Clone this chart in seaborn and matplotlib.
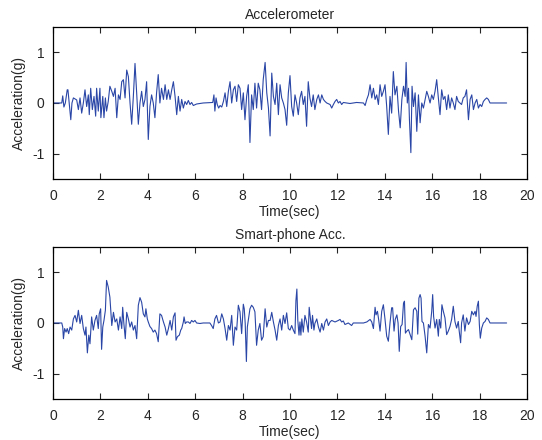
import matplotlib
matplotlib.use("Agg")
import matplotlib.pyplot as plt
import seaborn as sns

# Accelerometer record: sample times (s) and acceleration (g)
acc_t = [0.0, 0.37, 0.41, 0.46, 0.52, 0.60, 0.63, 0.75, 0.80, 0.86, 0.93, 1.00, 1.07, 1.14, 1.21, 1.28,
         1.35, 1.42, 1.49, 1.53, 1.59, 1.66, 1.73, 1.80, 1.84, 1.91, 1.98, 2.02, 2.10, 2.15, 2.21, 2.26,
         2.33, 2.40, 2.48, 2.55, 2.62, 2.69, 2.76, 2.83, 2.90, 2.97, 3.04, 3.11, 3.18, 3.25, 3.32, 3.39,
         3.46, 3.53, 3.60, 3.67, 3.74, 3.81, 3.88, 3.95, 4.02, 4.09, 4.16, 4.23, 4.30, 4.37, 4.44, 4.51,
         4.58, 4.66, 4.73, 4.80, 4.87, 4.94, 5.01, 5.08, 5.15, 5.22, 5.29, 5.36, 5.43, 5.50, 5.57, 5.64,
         5.71, 5.78, 5.85, 5.92, 6.06, 6.20, 6.34, 6.74, 6.79, 6.83, 6.88, 6.93, 6.99, 7.05, 7.12, 7.19,
         7.26, 7.33, 7.40, 7.47, 7.54, 7.61, 7.68, 7.75, 7.82, 7.89, 7.96, 8.03, 8.10, 8.17, 8.24, 8.31,
         8.38, 8.45, 8.52, 8.59, 8.66, 8.73, 8.80, 8.87, 8.95, 9.02, 9.09, 9.16, 9.23, 9.30, 9.37, 9.44,
         9.51, 9.58, 9.65, 9.72, 9.79, 9.86, 9.93, 10.00, 10.07, 10.14, 10.21, 10.28, 10.35, 10.42, 10.49,
         10.56, 10.63, 10.70, 10.77, 10.84, 10.91, 10.98, 11.05, 11.13, 11.20, 11.27, 11.34, 11.41, 11.48,
         11.55, 11.69, 11.76, 11.83, 11.90, 11.97, 12.04, 12.11, 12.18, 12.25, 12.53, 12.81, 13.10, 13.17,
         13.24, 13.31, 13.38, 13.45, 13.52, 13.59, 13.66, 13.73, 13.80, 13.87, 13.94, 14.01, 14.08, 14.15,
         14.22, 14.29, 14.36, 14.43, 14.51, 14.58, 14.65, 14.72, 14.79, 14.86, 14.90, 14.95, 15.00, 15.04,
         15.10, 15.15, 15.21, 15.28, 15.35, 15.42, 15.49, 15.56, 15.63, 15.70, 15.77, 15.84, 15.91, 15.98,
         16.05, 16.12, 16.19, 16.26, 16.33, 16.40, 16.47, 16.54, 16.61, 16.68, 16.75, 16.82, 16.89, 16.96,
         17.03, 17.10, 17.17, 17.24, 17.31, 17.38, 17.45, 17.53, 17.60, 17.67, 17.74, 17.81, 17.88, 17.95,
         18.02, 18.09, 18.16, 18.23, 18.30, 18.37, 18.44, 19.14]
acc_g = [0.0, 0.0, 0.14, -0.08, 0.0, 0.26, 0.26, -0.33, 0.0, 0.10, 0.08, 0.06, -0.13, 0.10, -0.20, 0.0,
         0.26, -0.07, 0.16, -0.23, 0.29, -0.13, 0.13, -0.26, 0.29, -0.16, 0.29, -0.29, 0.13, -0.29, 0.10, -0.16,
         0.03, 0.33, 0.23, 0.13, 0.29, -0.29, 0.16, 0.07, 0.42, 0.46, 0.10, 0.65, 0.52, 0.0, -0.42, 0.13,
         0.78, 0.20, -0.42, 0.0, 0.23, -0.07, 0.07, 0.42, -0.72, -0.07, 0.16, 0.0, -0.29, 0.20, 0.56, 0.0,
         0.29, 0.07, 0.36, 0.07, 0.26, 0.07, 0.26, 0.42, 0.13, -0.23, 0.13, -0.16, 0.07, -0.10, 0.03, -0.03,
         0.05, -0.03, 0.01, -0.05, -0.02, -0.01, 0.0, 0.01, 0.16, -0.16, 0.10, -0.03, -0.10, -0.05, -0.08, 0.03,
         0.20, -0.07, 0.23, 0.42, 0.0, 0.26, 0.33, 0.03, 0.36, 0.29, -0.13, 0.20, -0.33, 0.13, 0.36, -0.78,
         0.16, -0.13, 0.39, -0.10, 0.39, 0.26, -0.13, 0.46, 0.80, 0.20, -0.10, -0.65, 0.59, 0.13, -0.03, 0.39,
         -0.23, 0.36, 0.10, 0.0, -0.13, -0.44, 0.20, 0.54, -0.07, -0.26, 0.16, 0.0, -0.23, 0.10, 0.23,
         -0.03, 0.13, -0.46, 0.42, 0.10, -0.07, 0.16, -0.13, 0.07, 0.16, 0.0, 0.16, 0.07, 0.03,
         0.0, -0.03, -0.10, -0.03, 0.03, 0.07, 0.0, 0.03, -0.03, 0.01, -0.01, 0.01, 0.0, -0.05,
         0.07, 0.16, 0.36, 0.10, 0.29, 0.07, 0.16, -0.03, 0.36, 0.13, 0.23, 0.36, -0.07, -0.62,
         0.13, -0.20, 0.62, 0.16, 0.33, -0.16, -0.49, 0.07, 0.33, 0.13, 0.80, 0.0, 0.29, -0.33,
         -0.98, 0.33, -0.07, 0.20, -0.56, 0.16, -0.39, 0.0, -0.10, 0.07, 0.23, 0.13, 0.0, 0.16,
         0.07, 0.23, 0.46, 0.10, -0.23, 0.26, 0.07, 0.13, -0.13, 0.16, -0.10, 0.10, 0.0, -0.13,
         0.13, 0.03, 0.0, -0.03, 0.10, 0.13, 0.26, -0.33, 0.07, 0.16, -0.13, 0.0, 0.07, -0.10,
         -0.03, -0.07, 0.03, 0.07, 0.10, 0.07, 0.0, 0.0]

# Smart-phone record: sample times (s) and acceleration (g)
phone_t = [0.0, 0.37, 0.41, 0.44, 0.49, 0.55, 0.60, 0.66, 0.72, 0.79, 0.86, 0.93, 1.00, 1.07, 1.14, 1.21,
           1.28, 1.35, 1.39, 1.45, 1.51, 1.56, 1.63, 1.70, 1.77, 1.84, 1.91, 1.95, 2.01, 2.05, 2.10, 2.15,
           2.21, 2.26, 2.33, 2.40, 2.48, 2.55, 2.62, 2.69, 2.76, 2.83, 2.90, 2.94, 2.99, 3.05, 3.11, 3.18,
           3.25, 3.32, 3.39, 3.46, 3.53, 3.60, 3.67, 3.74, 3.81, 3.88, 3.92, 3.98, 4.02, 4.09, 4.16, 4.23,
           4.30, 4.37, 4.44, 4.51, 4.58, 4.66, 4.73, 4.80, 4.87, 4.94, 5.01, 5.08, 5.15, 5.19, 5.25, 5.33,
           5.39, 5.43, 5.50, 5.53, 5.58, 5.64, 5.71, 5.78, 5.85, 5.92, 5.99, 6.06, 6.20, 6.34, 6.62, 6.69,
           6.76, 6.83, 6.90, 6.98, 7.05, 7.12, 7.19, 7.26, 7.33, 7.40, 7.47, 7.54, 7.61, 7.68, 7.75, 7.82,
           7.89, 7.96, 8.03, 8.07, 8.11, 8.16, 8.20, 8.26, 8.31, 8.38, 8.45, 8.52, 8.59, 8.66, 8.73, 8.80,
           8.87, 8.95, 9.02, 9.09, 9.16, 9.23, 9.30, 9.37, 9.44, 9.51, 9.58, 9.65, 9.72, 9.79, 9.86, 9.93,
           10.00, 10.07, 10.14, 10.21, 10.25, 10.29, 10.33, 10.38, 10.42, 10.46, 10.50, 10.56, 10.63, 10.70,
           10.77, 10.81, 10.87, 10.91, 10.95, 11.01, 11.05, 11.13, 11.20, 11.27, 11.34, 11.41, 11.48, 11.55,
           11.62, 11.69, 11.76, 11.90, 12.04, 12.11, 12.18, 12.25, 12.32, 12.46, 12.60, 12.67, 13.10, 13.24,
           13.38, 13.45, 13.52, 13.59, 13.63, 13.69, 13.74, 13.80, 13.87, 13.94, 14.01, 14.08, 14.15, 14.22,
           14.29, 14.33, 14.39, 14.44, 14.51, 14.56, 14.61, 14.67, 14.73, 14.79, 14.83, 14.87, 14.93, 15.00,
           15.07, 15.14, 15.21, 15.28, 15.35, 15.39, 15.44, 15.49, 15.53, 15.57, 15.63, 15.70, 15.77, 15.84,
           15.91, 15.98, 16.02, 16.06, 16.12, 16.19, 16.26, 16.30, 16.36, 16.41, 16.47, 16.54, 16.61, 16.68,
           16.75, 16.82, 16.89, 16.96, 17.03, 17.10, 17.14, 17.20, 17.24, 17.31, 17.38, 17.45, 17.53, 17.60,
           17.67, 17.74, 17.81, 17.85, 17.90, 17.95, 17.99, 18.03, 18.09, 18.16, 18.23, 18.30, 18.37, 18.44,
           19.14]
phone_g = [0.0, 0.0, -0.08, -0.31, -0.11, -0.18, -0.11, -0.21, -0.08, -0.14, 0.08, 0.15, 0.02, 0.25, -0.01, 0.15,
           -0.11, -0.24, -0.08, -0.59, -0.24, -0.41, 0.12, -0.14, 0.05, 0.15, -0.11, 0.18, 0.28, -0.52, -0.08, 0.05,
           0.25, 0.84, 0.71, 0.51, -0.05, 0.21, 0.02, 0.08, -0.14, 0.12, -0.11, 0.31, -0.01, -0.31, 0.21, 0.08,
           -0.08, 0.02, -0.14, -0.05, -0.31, 0.35, 0.50, 0.41, 0.18, 0.12, 0.28, 0.08, 0.02, -0.07, -0.11, -0.18,
           -0.14, -0.21, -0.37, 0.18, 0.15, 0.02, -0.08, -0.24, -0.11, 0.05, -0.14, 0.12, 0.20, -0.34, -0.27, -0.24,
           -0.14, -0.11, 0.02, 0.12, -0.01, 0.02, 0.02, -0.01, 0.05, 0.02, 0.05, 0.0, -0.01, 0.0, 0.0, -0.05,
           -0.11, 0.08, 0.15, 0.0, 0.02, 0.18, 0.08, -0.11, -0.34, -0.05, -0.14, 0.15, -0.44, -0.08, -0.14, 0.35,
           0.22, -0.21, 0.37, 0.28, -0.01, -0.76, -0.08, 0.12, 0.28, 0.35, 0.31, 0.22, -0.44, -0.14, -0.01, -0.34,
           -0.27, 0.28, -0.08, 0.05, 0.05, 0.21, 0.02, -0.14, -0.34, -0.05, 0.08, -0.14, 0.15, -0.01, 0.20, -0.11,
           -0.14, -0.05, -0.14, -0.21, 0.44, 0.67, 0.05, -0.24, 0.02, -0.24, 0.08, -0.18, 0.15, 0.02,
           -0.18, 0.31, 0.05, -0.11, 0.15, -0.14, -0.01, 0.08, -0.08, -0.18, -0.01, -0.14, 0.02, 0.08,
           -0.05, 0.02, 0.05, 0.02, 0.05, 0.07, 0.02, 0.04, -0.03, 0.0, -0.05, 0.0, 0.0, 0.02,
           0.07, 0.02, -0.11, 0.31, 0.16, 0.23, 0.07, -0.16, 0.23, 0.36, 0.07, -0.26, -0.36, 0.0,
           0.30, 0.30, -0.16, 0.07, 0.16, 0.0, -0.56, -0.07, -0.03, 0.39, 0.43, -0.20, -0.16, -0.13,
           -0.23, -0.33, 0.26, 0.30, 0.23, -0.22, 0.49, 0.56, 0.49, 0.03, 0.0, -0.26, -0.59, -0.03,
           -0.10, 0.23, 0.56, 0.13, -0.10, 0.07, -0.26, 0.07, -0.10, 0.36, 0.23, 0.10, -0.23, -0.16,
           -0.07, 0.07, 0.33, 0.03, -0.10, 0.03, -0.16, -0.39, 0.0, 0.16, -0.16, 0.10, -0.03, 0.03,
           0.23, 0.16, 0.23, 0.13, 0.33, 0.43, -0.03, -0.30, -0.10, 0.0, 0.03, 0.10, 0.07, 0.0,
           0.0]

titles = ["Accelerometer", "Smart-phone Acc."]
x_ticks = list(range(0, 21, 2))
y_ticks = [-1, 0, 1]

sns.set_style("ticks")
plt.rcParams["font.family"] = ["Liberation Sans", "DejaVu Sans"]
plt.rcParams["font.size"] = 10
plt.rcParams["axes.unicode_minus"] = False

fig = plt.figure(figsize=(5.42, 4.40), dpi=100)
ax_top = fig.add_axes([0.0978, 0.5932, 0.8745, 0.3455])
ax_bot = fig.add_axes([0.0978, 0.0932, 0.8745, 0.3455])

line_color = "#2a46a6"
for ax, t, g, title in [(ax_top, acc_t, acc_g, titles[0]), (ax_bot, phone_t, phone_g, titles[1])]:
    sns.lineplot(x=t, y=g, ax=ax, color=line_color, linewidth=0.8, sort=False, estimator=None)
    ax.set_xlim(0, 20)
    ax.set_ylim(-1.5, 1.5)
    ax.set_xticks(x_ticks)
    ax.set_yticks(y_ticks)
    ax.set_title(title, fontsize=10, pad=6)
    ax.set_xlabel("Time(sec)", fontsize=10, labelpad=2)
    ax.set_ylabel("Acceleration(g)", fontsize=10, labelpad=5)
    ax.tick_params(axis="x", pad=7)
    ax.tick_params(axis="y", pad=6)
    ax.tick_params(direction="in", length=4, width=0.8, top=True, right=True, labelsize=10)
    for s in ax.spines.values():
        s.set_linewidth(0.9)
        s.set_color("black")

fig.savefig("out.png", dpi=100)
